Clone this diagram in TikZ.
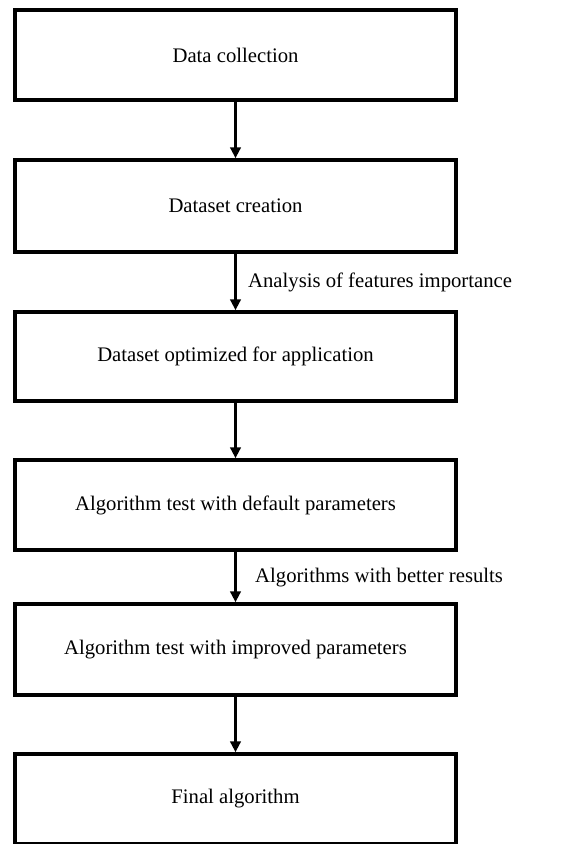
\documentclass[tikz,border=0pt]{standalone}
\usepackage{fontspec}
\setmainfont{Liberation Serif}
\usetikzlibrary{arrows.meta}
\begin{document}
\begin{tikzpicture}[x=1pt,y=1pt,
  box/.style={draw=black,line width=3.5pt,minimum width=441pt,inner sep=0pt,
    font=\fontsize{20.7}{24}\selectfont,text=black},
  conn/.style={draw=black,line width=3.2pt,-{Triangle[width=10.5pt,length=11pt]}},
  lbl/.style={anchor=west,inner sep=0pt,font=\fontsize{20.7}{24}\selectfont,text=black}]
\useasboundingbox (0,0) rectangle (587,-844);
\fill[white] (0,0) rectangle (587,-844);
\node[box,minimum height=90pt] (b1) at (235.5,-55) {Data collection};
\node[box,minimum height=92pt] (b2) at (235.5,-206) {Dataset creation};
\node[box,minimum height=89pt] (b3) at (235.5,-356.5) {Dataset optimized for application};
\node[box,minimum height=90pt] (b4) at (235.5,-505) {Algorithm test with default parameters};
\node[box,minimum height=91pt] (b5) at (235.5,-649.5) {Algorithm test with improved parameters};
\node[box,minimum height=90pt] (b6) at (235.5,-799) {Final algorithm};
\draw[conn] (b1.south) -- (b2.north);
\draw[conn] (b2.south) -- (b3.north);
\draw[conn] (b3.south) -- (b4.north);
\draw[conn] (b4.south) -- (b5.north);
\draw[conn] (b5.south) -- (b6.north);
\node[lbl] (l1) at (248,-282) {Analysis of features importance};
\node[lbl] (l2) at (255,-578) {Algorithms with better results};
\end{tikzpicture}
\end{document}
